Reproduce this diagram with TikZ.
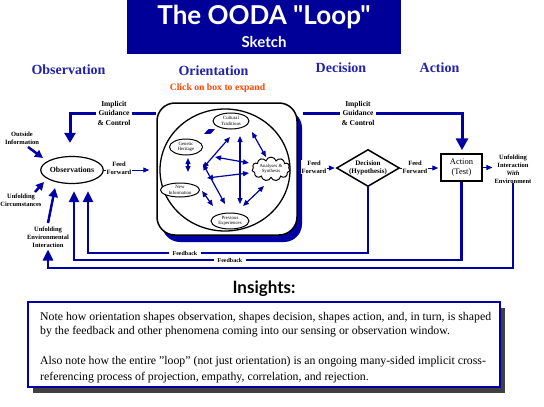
\documentclass[tikz,border=0pt]{standalone}
\usepackage{fontspec}
\setmainfont{Liberation Serif}
\newfontfamily\titlefont{Lato}
\usetikzlibrary{arrows.meta,shapes.geometric,shapes.symbols}
\definecolor{titlebg}{RGB}{0,0,153}
\definecolor{headblue}{RGB}{34,34,170}
\definecolor{lineblue}{RGB}{0,0,165}
\definecolor{clickred}{RGB}{255,69,0}
\definecolor{shadowgray}{RGB}{64,64,64}
\begin{document}
\begin{tikzpicture}[x=1pt,y=-1pt,
  heading/.style={font=\fontsize{14}{16}\selectfont\bfseries, text=headblue, inner sep=0},
  small/.style={font=\fontsize{6.5}{8}\selectfont\bfseries, align=center, inner sep=1pt},
  guide/.style={font=\fontsize{7.5}{9.5}\selectfont\bfseries, align=center, fill=white, inner sep=2pt},
  innernode/.style={ellipse, draw, line width=1, fill=white, font=\fontsize{4.8}{5.5}\selectfont, align=center, inner sep=0, minimum width=36, minimum height=16},
  guideline/.style={draw=lineblue, line width=3},
  fb/.style={draw=lineblue, line width=2.5, -{Triangle[length=11pt,width=10pt]}},
  ff/.style={draw=lineblue, line width=1, -{Triangle[length=6pt,width=5pt]}},
  inarrow/.style={draw=lineblue, line width=2.5, -{Triangle[length=9pt,width=9pt]}},
  dbl/.style={draw=lineblue, line width=1.2, {Triangle[length=6pt,width=5pt]}-{Triangle[length=6pt,width=5pt]}},
  bodytext/.style={anchor=base west, font=\fontsize{11.8}{14}\selectfont, inner sep=0},
]
\useasboundingbox (0,0) rectangle (544,407);
\fill[white] (0,0) rectangle (544,407);

% title
\node[fill=titlebg, minimum width=274, minimum height=54, inner sep=0] (title) at (264,27) {};
\node[text=white, font=\titlefont\bfseries\fontsize{26}{28}\selectfont, inner sep=0] (t1) at (264,17) {The OODA "Loop"};
\node[text=white, font=\titlefont\bfseries\fontsize{15}{17}\selectfont, inner sep=0] (t2) at (264,42) {Sketch};

% headings
\node[heading] (hobs) at (68.5,70) {Observation};
\node[heading] (hori) at (213.5,71) {Orientation};
\node[heading] (hdec) at (341,68) {Decision};
\node[heading] (hact) at (439.5,68) {Action};
\node[font=\fontsize{9.7}{11}\selectfont\bfseries, text=clickred, inner sep=0] (click) at (217.5,88) {Click on box to expand};

% orientation box
\fill[lineblue, rounded corners=18] (162,110) rectangle (302,242);
\node[draw, line width=1.5, fill=white, rounded corners=18, minimum width=140, minimum height=132, inner sep=0] (ori) at (227,169) {};
\node[ellipse, draw, line width=1.3, minimum width=130, minimum height=122, inner sep=0] (big) at (225,170) {};

% inner nodes
\node[innernode] (cult) at (231,121) {Cultural\\Traditions};
\node[innernode, minimum width=33] (gen) at (186,147) {Genetic\\Heritage};
\node[innernode, minimum width=39, minimum height=14] (newi) at (180,190) {New\\Information};
\node[cloud, draw, cloud puffs=11, aspect=1.8, line width=1, fill=white, font=\fontsize{4.8}{5.5}\selectfont, align=center, minimum width=38, minimum height=21, inner sep=0] (ana) at (271,169) {Analyses \&\\Synthesis};
\node[innernode, minimum width=38] (prev) at (230,221) {Previous\\Experiences};

% inner arrows
\coordinate (a1s) at (203,168); \coordinate (a1e) at (230,137);
\coordinate (a2s) at (215,157); \coordinate (a2e) at (249,163);
\coordinate (a3s) at (207,178); \coordinate (a3e) at (249,173);
\coordinate (a4s) at (203,164); \coordinate (a4e) at (225,204);
\coordinate (a5s) at (240,136); \coordinate (a5e) at (240,204);
\coordinate (a6s) at (252,132); \coordinate (a6e) at (266,157);
\coordinate (a7s) at (264,186); \coordinate (a7e) at (243,206);
\coordinate (a8s) at (202,191); \coordinate (a8e) at (213,206);
\coordinate (a9s) at (204,134); \coordinate (a9e) at (215,129);
\coordinate (a10s) at (188,158); \coordinate (a10e) at (188,172);
\foreach \i in {1,...,10} {\draw[dbl] (a\i s) -- (a\i e);}

% observations
\node[ellipse, draw, line width=1.2, minimum width=52, minimum height=27, inner sep=0, font=\fontsize{7.8}{9}\selectfont\bfseries] (obs) at (72,170) {Observations};

% decision & action
\node[diamond, draw, line width=1.5, minimum width=62, minimum height=37, shape aspect=1.7, inner sep=0, align=center, font=\fontsize{7}{8.5}\selectfont\bfseries] (dec) at (368,168) {Decision\\(Hypothesis)};
\node[draw, line width=1.5, minimum width=41, minimum height=27, inner sep=0, align=center, font=\fontsize{8.5}{10}\selectfont] (act) at (461.5,167.5) {Action\\(Test)};
\node[small, font=\fontsize{6.5}{8}\selectfont\bfseries] (env) at (513,169) {Unfolding\\Interaction\\\textit{With}\\Environment};

% implicit guidance
\coordinate (gl) at (70,113);
\coordinate (gr) at (462,113);
\draw[guideline, -{Triangle[length=10pt,width=11pt]}, shorten >=13pt] (ori.west |- gl) -- (gl) -- (gl |- obs.north);
\draw[guideline, -{Triangle[length=12pt,width=12pt]}, shorten >=3pt] ([xshift=5pt]ori.east |- gr) -- (gr) -- (gr |- act.north);
\node[guide] (g1) at (114,113) {Implicit\\Guidance\\\& Control};
\node[guide] (g2) at (358,113) {Implicit\\Guidance\\\& Control};

% feed forward
\draw[ff, shorten >=7pt] (obs.east) -- (obs.east -| ori.west);
\node[small, fill=white] (ff1) at (119,168) {Feed\\Forward};
\draw[ff, shorten >=1pt] ([xshift=5pt]ori.east |- dec.west) -- (dec.west);
\node[small, fill=white] (ff2) at (314,167) {Feed\\Forward};
\draw[ff, shorten >=2pt] (dec.east) -- (act.west |- dec.east);
\node[small, fill=white] (ff3) at (415,167) {Feed\\Forward};
\draw[ff, shorten >=1pt] (act.east) -- (env.west |- act.east);

% left inputs
\node[small] (outinfo) at (22,138) {Outside\\Information};
\node[small] (circ) at (21,200) {Unfolding\\Circumstances};
\node[small] (env2) at (48,237) {Unfolding\\Environmental\\Interaction};
\coordinate (o1) at (28,147); \coordinate (o2) at (43,158);
\coordinate (c1) at (35,192); \coordinate (c2) at (44,182);
\coordinate (e1) at (48,223); \coordinate (e2) at (55,188);
\draw[inarrow, -{Triangle[length=8pt,width=8pt]}] (o1) -- (o2);
\draw[inarrow, -{Triangle[length=8pt,width=8pt]}] (c1) -- (c2);
\draw[inarrow] (e1) -- (e2);

% feedback loops
\coordinate (f1l) at (88,253);
\coordinate (f2l) at (74,260);
\coordinate (f3l) at (48,268);
\draw[fb, shorten >=7pt] (dec.south) |- (f1l) -- (f1l |- obs.south);
\draw[fb, shorten >=7pt] (act.south) |- (f2l) -- (f2l |- obs.south);
\draw[fb, shorten >=1pt] ([yshift=2pt]env.south) |- (f3l) -- (env2.south);
\node[small, fill=white, inner xsep=4pt, font=\fontsize{6}{7}\selectfont\bfseries] (fbl1) at (185,253) {Feedback};
\node[small, fill=white, inner xsep=4pt, font=\fontsize{6}{7}\selectfont\bfseries] (fbl2) at (230,260) {Feedback};

% insights
\node[font=\titlefont\bfseries\fontsize{17}{19}\selectfont, inner sep=0] (ins) at (264,289) {Insights:};
\fill[shadowgray] (33,308) rectangle (505,393);
\node[draw=lineblue, line width=1.5, fill=white, minimum width=472, minimum height=85, inner sep=0] (box) at (264,344.5) {};
\node[bodytext] (l1) at (40,320) {Note how orientation shapes observation, shapes decision, shapes action, and, in turn, is shaped};
\node[bodytext] (l2) at (40,334) {by the feedback and other phenomena coming into our sensing or observation window.};
\node[bodytext] (l3) at (40,364) {Also note how the entire "loop" (not just orientation) is an ongoing many-sided implicit cross-};
\node[bodytext] (l4) at (40,380) {referencing process of projection, empathy, correlation, and rejection.};
\end{tikzpicture}
\end{document}
